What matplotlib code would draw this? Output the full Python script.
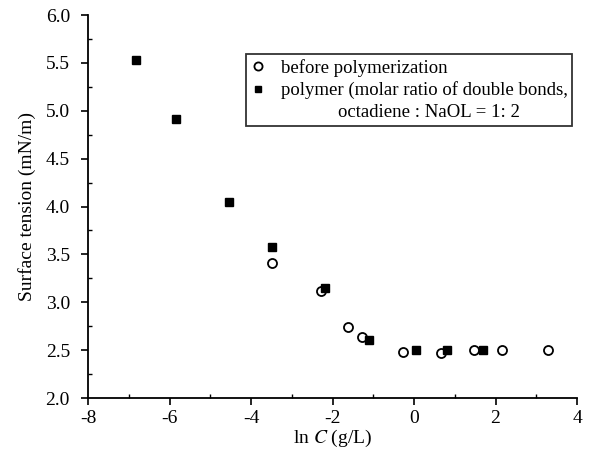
import numpy as np
import matplotlib.pyplot as plt
from matplotlib.ticker import MultipleLocator
from matplotlib.lines import Line2D

plt.rcParams['font.family'] = ['Liberation Serif', 'DejaVu Serif']
plt.rcParams['mathtext.fontset'] = 'stix'
plt.rcParams['axes.unicode_minus'] = False

# before polymerization (open circles)
x_before = [-3.49, -2.28, -1.62, -1.28, -0.26, 0.65, 1.47, 2.16, 3.30]
y_before = [3.41, 3.12, 2.745, 2.64, 2.48, 2.47, 2.50, 2.50, 2.50]

# polymer (filled squares)
x_poly = [-6.82, -5.85, -4.54, -3.48, -2.18, -1.10, 0.06, 0.80, 1.70]
y_poly = [5.53, 4.91, 4.05, 3.58, 3.15, 2.61, 2.50, 2.50, 2.50]

lab_before = 'before polymerization'
lab_poly = 'polymer (molar ratio of double bonds,'
lab_poly2 = '            octadiene : NaOL = 1: 2'

fig = plt.figure(figsize=(6, 4.58), dpi=100)
ax = fig.add_axes([0.1467, 0.131, 0.815, 0.836])

h1, = ax.plot(x_before, y_before, 'o', mfc='white', mec='black', mew=1.3, ms=6.5,
              zorder=3)
h2, = ax.plot(x_poly, y_poly, 's', color='black', ms=5.5, zorder=4)
h3 = Line2D([], [], linestyle='none', marker='none')

ax.set_xlim(-8, 4)
ax.set_ylim(2.0, 6.0)
ax.xaxis.set_major_locator(MultipleLocator(2))
ax.xaxis.set_minor_locator(MultipleLocator(1))
ax.yaxis.set_major_locator(MultipleLocator(0.5))
ax.yaxis.set_minor_locator(MultipleLocator(0.25))
ax.yaxis.set_major_formatter(plt.FormatStrFormatter('%.1f'))

for s in ['top', 'right']:
    ax.spines[s].set_visible(False)
ax.spines['left'].set_linewidth(1.3)
ax.spines['bottom'].set_linewidth(1.3)
ax.tick_params(which='major', direction='out', length=5, width=1.2, labelsize=14)
ax.tick_params(axis='y', which='major', pad=8)
ax.tick_params(which='minor', direction='in', length=3, width=1)

ax.set_xlabel('ln $C$ (g/L)', fontsize=14, labelpad=1)
ax.set_ylabel('Surface tension (mN/m)', fontsize=14, labelpad=7)

leg = ax.legend([h1, h2, h3], [lab_before, lab_poly, lab_poly2],
                loc='upper left', bbox_to_anchor=(0.323, 0.898), fontsize=13.5,
                frameon=True, fancybox=False, edgecolor='black', handlelength=0.8,
                handletextpad=0.8, borderpad=0.25, labelspacing=0.25,
                markerscale=0.9, borderaxespad=0)
leg.get_frame().set_linewidth(1.3)

fig.savefig('out.png', dpi=100)
